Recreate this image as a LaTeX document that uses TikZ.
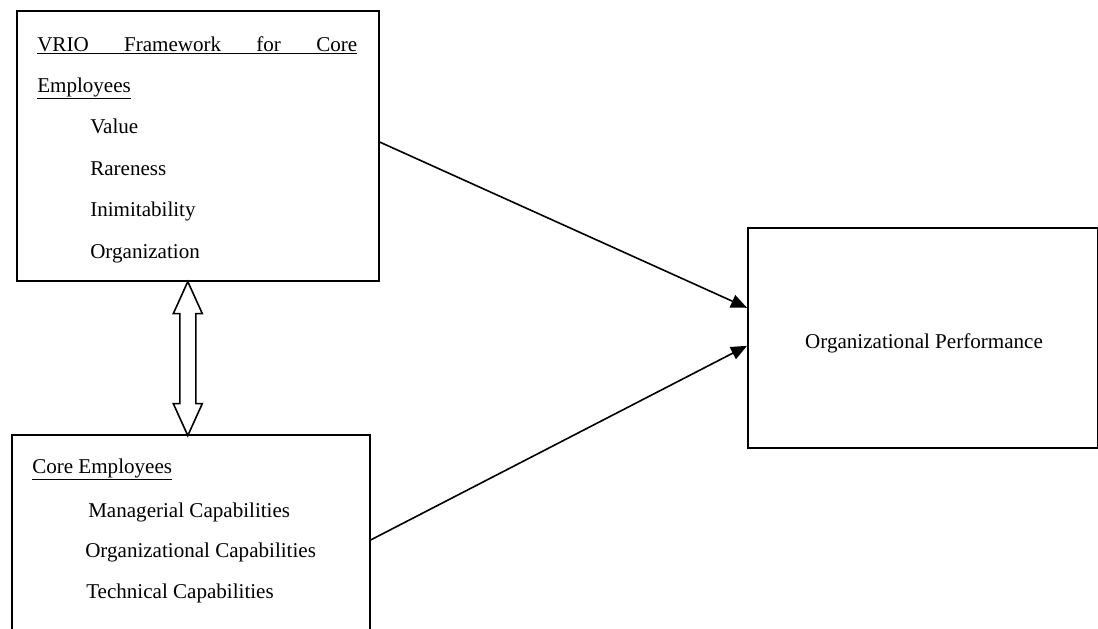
\documentclass[tikz,border=0pt]{standalone}
\usepackage{fontspec}
\setmainfont{Liberation Serif}
\usetikzlibrary{arrows.meta}

\begin{document}
\begin{tikzpicture}[x=0.75pt, y=-0.75pt,
    box/.style={draw, line width=1.2pt, inner sep=0pt, anchor=north west},
    txt/.style={inner sep=0pt, anchor=base west, font=\fontsize{15.8}{19}\selectfont},
    arr/.style={line width=1.2pt, -{Triangle[length=12pt, width=10pt]}}]
    \begin{scope}
    \clip (0,0) rectangle (1098,628);

    % 框
    \node[box, minimum width=271.5pt, minimum height=202.5pt] (vrio) at (16,10) {};
    \node[box, minimum width=268.5pt, minimum height=172.5pt] (core) at (11,434) {};
    \node[box, minimum width=262.5pt, minimum height=165pt] (perf) at (747,227) {};

    % 左上框文字
    \node[txt] (vrio0) at (37,51) {\underline{\hbox to 240pt{VRIO\hfill Framework\hfill for\hfill Core}}};
    \node[txt] (vrio1) at (37,92) {\underline{Employees}};
    \node[txt] (val) at (90,133) {Value};
    \node[txt] (rar) at (90,175) {Rareness};
    \node[txt] (inim) at (90,216) {Inimitability};
    \node[txt] (org) at (90,258) {Organization};

    % 左下框文字
    \node[txt] (core0) at (32,473) {\underline{Core Employees}};
    \node[txt] (mcap) at (88,517) {Managerial Capabilities};
    \node[txt] (ocap) at (85,557) {Organizational Capabilities};
    \node[txt] (tcap) at (86,598) {Technical Capabilities};

    % 右框文字
    \node[txt, anchor=base] (perftxt) at (924,348) {Organizational Performance};

    % 空心双箭头
    \draw[line width=1.2pt] ([xshift=-7.5pt]vrio.south) -- ++(14.5,32) -- ++(-6.5,0) -- ++(0,90)
        -- ++(6.5,0) -- ++(-14.5,32) -- ++(-14.5,-32) -- ++(6.5,0) -- ++(0,-90) -- ++(-6.5,0) -- cycle;

    % 箭头
    \draw[arr] ([yshift=-99pt]vrio.north east) -- ([yshift=22.5pt]perf.west);
    \draw[arr] ([yshift=-79.5pt]core.north east) -- ([yshift=-6pt]perf.west);
    \end{scope}

    \pgfresetboundingbox
    \useasboundingbox (0,0) rectangle (1098,628);
\end{tikzpicture}
\end{document}
